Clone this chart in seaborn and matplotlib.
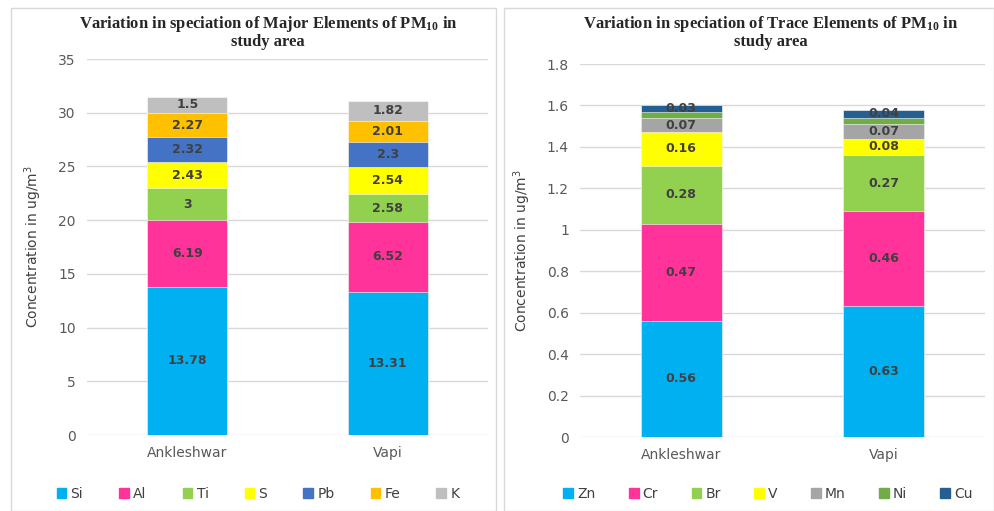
import numpy as np
import pandas as pd
import matplotlib.pyplot as plt
import matplotlib.patches as mpatches
import seaborn as sns

# data
sites = ['Ankleshwar', 'Vapi']

major_elements = ['Si', 'Al', 'Ti', 'S', 'Pb', 'Fe', 'K']
major_values = [
    [13.78, 13.31],  # Si
    [6.19, 6.52],    # Al
    [3.00, 2.58],    # Ti
    [2.43, 2.54],    # S
    [2.32, 2.30],    # Pb
    [2.27, 2.01],    # Fe
    [1.50, 1.82],    # K
]
major_colors = ['#00B0F0', '#FF3399', '#92D050', '#FFFF00', '#4472C4', '#FFC000', '#BFBFBF']

trace_elements = ['Zn', 'Cr', 'Br', 'V', 'Mn', 'Ni', 'Cu']
trace_values = [
    [0.56, 0.63],  # Zn
    [0.47, 0.46],  # Cr
    [0.28, 0.27],  # Br
    [0.16, 0.08],  # V
    [0.07, 0.07],  # Mn
    [0.03, 0.03],  # Ni (no label in chart)
    [0.03, 0.04],  # Cu
]
trace_colors = ['#00B0F0', '#FF3399', '#92D050', '#FFFF00', '#A5A5A5', '#70AD47', '#255E91']
trace_labelled = [True, True, True, True, True, False, True]

sns.set_style('white')
plt.rcParams['font.family'] = ['DejaVu Sans']

fig = plt.figure(figsize=(9.95, 5.11), dpi=100)

# panel frames
fig.patches.append(mpatches.Rectangle((11 / 995, 0.0), 485 / 995, 1 - 8 / 511, transform=fig.transFigure,
                                      fill=False, edgecolor='#D9D9D9', lw=1))
fig.patches.append(mpatches.Rectangle((504 / 995, 0.0), 490 / 995, 1 - 8 / 511, transform=fig.transFigure,
                                      fill=False, edgecolor='#D9D9D9', lw=1))

ax1 = fig.add_axes([87 / 995, 1 - 435 / 511, 401 / 995, 376 / 511])
ax2 = fig.add_axes([580 / 995, 1 - 437 / 511, 405 / 995, 373 / 511])


def stacked(ax, elements, values, colors, labelled, ymax, ystep, fmt):
    vals = np.array(values)
    cum = np.cumsum(vals, axis=0)
    # draw from the tallest cumulative layer down so lower layers sit on top
    for i in range(len(elements) - 1, -1, -1):
        df = pd.DataFrame({'site': sites, 'total': cum[i]})
        sns.barplot(data=df, x='site', y='total', color=colors[i], width=0.4,
                    edgecolor='white', linewidth=0.4, saturation=1, ax=ax)
    for i in range(len(elements)):
        if not labelled[i]:
            continue
        for j in range(len(sites)):
            ax.text(j, cum[i, j] - vals[i, j] / 2, fmt(vals[i, j]), ha='center', va='center',
                    fontsize=9, fontweight='bold', color='#404040')
    ax.set_xlim(-0.5, 1.5)
    ax.set_ylim(0, ymax)
    ax.set_yticks(np.arange(0, ymax + ystep / 2, ystep))
    ax.yaxis.grid(True, color='#D9D9D9', lw=1)
    ax.set_axisbelow(True)
    for s in ax.spines.values():
        s.set_visible(False)
    ax.tick_params(axis='both', length=0, labelsize=10, colors='#595959', pad=8)
    ax.set_xlabel('')
    ax.set_ylabel('Concentration in ug/m$^3$', fontsize=10, color='#404040', labelpad=10)
    handles = [mpatches.Patch(color=c, label=e) for e, c in zip(elements, colors)]
    return handles


def fmt_major(v):
    return f'{v:g}'


def fmt_trace(v):
    return f'{v:.2f}'


h1 = stacked(ax1, major_elements, major_values, major_colors, [True] * 7, 35, 5, fmt_major)
h2 = stacked(ax2, trace_elements, trace_values, trace_colors, trace_labelled, 1.8, 0.2, fmt_trace)
ax2.set_yticklabels([f'{t:g}' for t in np.arange(0, 1.81, 0.2).round(1)])

fig.legend(handles=h1, loc='center', bbox_to_anchor=(258 / 995, 1 - 494 / 511), ncol=7, frameon=False,
           fontsize=10, handlelength=0.7, handleheight=0.7, handletextpad=0.3, columnspacing=2.6,
           labelcolor='#404040')
fig.legend(handles=h2, loc='center', bbox_to_anchor=(768 / 995, 1 - 494 / 511), ncol=7, frameon=False,
           fontsize=10, handlelength=0.7, handleheight=0.7, handletextpad=0.3, columnspacing=2.4,
           labelcolor='#404040')

title_kw = dict(ha='center', va='center', fontsize=12, fontweight='bold', family='Liberation Serif',
                color='#262626', linespacing=1.0)
fig.text(268 / 995, 1 - 32 / 511, 'Variation in speciation of Major Elements of PM$\\mathregular{_{10}}$ in\nstudy area', **title_kw)
fig.text(771 / 995, 1 - 32 / 511, 'Variation in speciation of Trace Elements of PM$\\mathregular{_{10}}$ in\nstudy area', **title_kw)

fig.savefig('out.png', dpi=100)
